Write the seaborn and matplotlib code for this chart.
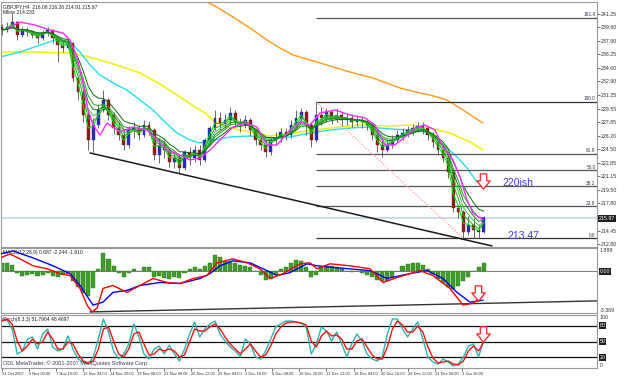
import numpy as np
import pandas as pd
import matplotlib
matplotlib.use("Agg")
import matplotlib.pyplot as plt
from matplotlib.path import Path
from matplotlib.transforms import blended_transform_factory as btf
import seaborn as sns

sns.set_theme(style="white")
plt.rcParams['font.family'] = ['Liberation Sans', 'DejaVu Sans']

# ---------------- data (one candle = 12h, x = candle index) ----------------
OPEN0 = 239.64
CLOSE = [239.27, 239.64, 240.26, 238.65, 239.27, 239.02, 238.65, 238.28, 238.90, 239.27,
         238.28, 237.41, 237.04, 237.66, 233.33, 231.60, 228.75, 225.66, 227.51, 229.37,
         230.61, 228.75, 227.14, 226.27, 225.04, 226.89, 227.14, 226.27, 227.51, 226.89,
         223.80, 225.04, 224.42, 222.93, 223.43, 222.19, 224.17, 223.43, 224.42, 223.18,
         225.66, 227.14, 228.38, 227.64, 228.13, 229.00, 227.88, 227.51, 228.13, 226.89,
         225.66, 225.04, 224.17, 225.66, 225.90, 226.65, 226.27, 227.51, 228.38, 229.12,
         227.51, 225.66, 228.75, 228.38, 229.12, 228.38, 228.75, 228.13, 228.38, 227.88,
         228.13, 227.88, 227.51, 226.27, 225.04, 224.42, 225.04, 225.66, 226.27, 226.52,
         226.89, 227.14, 227.39, 227.14, 226.27, 225.41, 224.42, 223.43, 221.70, 217.24,
         216.74, 214.27, 215.13, 214.52, 214.27, 215.97]
HIGH = [240.01, 240.26, 241.37, 240.40, 239.64, 239.64, 239.27, 238.90, 239.27, 239.64,
        239.39, 238.28, 238.03, 238.28, 237.78, 233.58, 232.09, 229.12, 228.38, 230.11,
        231.84, 230.85, 229.12, 227.88, 226.89, 227.39, 227.88, 227.51, 228.13, 228.00,
        227.14, 225.90, 225.66, 224.67, 224.17, 223.80, 224.42, 224.79, 225.04, 225.04,
        225.90, 227.39, 229.37, 229.12, 228.87, 229.74, 229.37, 228.38, 228.75, 228.38,
        227.14, 226.27, 225.66, 225.90, 226.65, 227.14, 227.14, 228.13, 229.37, 229.62,
        229.37, 227.88, 230.36, 229.74, 229.62, 229.37, 229.62, 229.12, 229.00, 228.87,
        228.75, 228.63, 228.38, 227.88, 226.65, 225.66, 225.66, 226.27, 226.89, 227.14,
        227.39, 227.64, 227.88, 227.88, 227.39, 226.65, 225.90, 225.04, 224.17, 222.19,
        217.61, 216.99, 216.25, 216.00, 215.13, 216.26]
LOW = [238.65, 239.02, 239.52, 238.03, 238.40, 238.53, 238.28, 237.66, 238.03, 238.53,
       237.66, 235.31, 236.55, 237.04, 232.83, 230.61, 227.88, 224.42, 224.17, 227.14,
       229.12, 228.13, 226.40, 225.66, 224.42, 224.67, 225.90, 225.66, 226.03, 226.27,
       223.18, 222.81, 223.43, 222.31, 222.19, 221.57, 221.94, 222.56, 222.93, 222.56,
       222.93, 225.04, 226.89, 226.89, 227.14, 227.51, 227.27, 226.65, 227.14, 226.15,
       225.04, 224.42, 223.55, 223.80, 225.04, 225.41, 225.66, 225.90, 227.14, 227.88,
       226.27, 224.79, 225.41, 227.51, 227.88, 227.64, 227.88, 227.39, 227.51, 227.27,
       227.39, 227.14, 226.89, 225.66, 224.17, 223.55, 224.17, 224.67, 225.29, 225.66,
       226.03, 226.27, 226.65, 226.40, 225.66, 224.79, 223.80, 222.93, 220.95, 216.74,
       216.00, 213.47, 213.90, 213.53, 213.53, 214.15]

MAGENTA_X = [1.18, 3.55, 6.51, 9.47, 12.03, 13.41, 14.79, 15.98, 16.96, 17.95, 19.33, 20.71,
             23.27, 25.84, 28.60, 31.16, 32.54, 35.11, 37.08, 39.05, 41.03, 43.0, 45.56, 47.93,
             50.30, 52.27, 54.24, 56.80, 58.78, 60.75, 62.72, 65.68, 68.64, 71.60, 73.57, 75.54,
             77.51, 79.49, 81.46, 83.43, 85.40, 86.98, 88.95, 90.34, 91.72, 92.90, 94.87]
MAGENTA_Y = [239.52, 240.26, 239.89, 239.27, 238.90, 238.03, 235.93, 232.71, 229.37, 227.51,
             226.27, 227.76, 226.65, 227.27, 226.89, 225.29, 224.42, 223.80, 223.18, 223.43,
             224.42, 225.66, 227.27, 227.76, 227.27, 225.04, 225.04, 226.89, 227.88, 227.51,
             229.00, 229.37, 228.75, 228.38, 227.51, 225.04, 225.04, 226.03, 227.14, 227.51,
             226.89, 224.79, 223.18, 221.08, 218.23, 216.62, 215.75]
CYAN_X = [-0.39, 3.55, 7.50, 10.45, 13.41, 15.38, 17.36, 19.33, 22.29, 24.65, 27.22, 29.78,
          32.15, 34.52, 37.08, 39.05, 42.01, 44.97, 48.92, 52.86, 56.80, 60.75, 64.69, 68.64,
          72.58, 76.53, 80.47, 83.43, 85.40, 86.98, 88.95, 90.34, 91.72, 93.69]
CYAN_Y = [235.93, 236.55, 237.41, 238.03, 237.78, 236.55, 234.94, 233.70, 232.59, 231.84,
          230.61, 229.37, 227.88, 226.52, 225.66, 225.29, 225.66, 226.03, 226.15, 225.90,
          226.03, 226.52, 226.89, 227.14, 227.27, 227.02, 226.89, 226.65, 226.03, 225.04,
          224.05, 223.18, 222.19, 220.46]
YELLOW_X = [-0.39, 6.51, 13.41, 16.37, 19.33, 23.27, 27.22, 31.16, 35.11, 38.07, 40.04, 42.01,
            44.97, 48.92, 52.86, 55.82, 58.78, 64.69, 70.61, 76.53, 80.47, 84.42, 88.36, 92.31, 94.87]
YELLOW_Y = [236.55, 236.55, 236.42, 236.05, 235.56, 234.81, 233.95, 232.59, 230.98, 229.74,
            229.00, 227.88, 227.14, 226.65, 226.15, 226.40, 226.65, 227.14, 227.51, 227.39,
            227.51, 227.14, 226.52, 225.41, 224.42]
ORANGE_X = [39.64, 42.01, 45.56, 48.92, 52.27, 54.83, 57.40, 62.13, 68.64, 73.18, 78.50,
            82.45, 84.42, 87.77, 90.93, 94.87]
ORANGE_Y = [242.98, 242.24, 240.88, 239.52, 238.03, 237.04, 236.18, 235.31, 234.07, 233.33,
            232.09, 231.47, 231.22, 230.61, 229.37, 227.76]

TREND_X = [17.36, 96.65]
TREND_Y = [224.05, 212.54]
FIB_FROM, FIB_TO = 62, 91
FIB_RATIOS = [0.0, 23.6, 38.2, 50.0, 61.8, 100.0, 161.8]
BID = 215.97
PRICE_TICKS = [241.25, 239.60, 237.90, 236.25, 234.60, 232.90, 231.25, 229.55, 227.85,
               226.20, 224.50, 222.85, 221.15, 219.50, 217.80, 214.45, 212.80]

MACD_HIST = [0.69, 0.69, 0.53, -0.10, -0.34, -0.26, -0.18, -0.34, -0.26, -0.10,
             -0.34, -0.42, -0.26, -0.18, -0.74, -1.30, -1.78, -2.02, -1.38, 0.21,
             1.49, 1.01, 0.45, -0.10, -0.42, -0.10, 0.21, 0.06, 0.37, 0.37,
             -0.42, -0.34, -0.50, -0.58, -0.42, -0.50, -0.10, 0.21, 0.37, 0.21,
             0.45, 0.69, 1.33, 1.17, 0.85, 0.85, 0.69, 0.53, 0.45, 0.37,
             0.06, -0.26, -0.66, -0.58, -0.26, 0.21, 0.37, 0.69, 0.93, 0.85,
             0.37, -0.42, -0.26, 0.37, 0.45, 0.45, 0.37, 0.21, 0.06, -0.02,
             0.06, -0.10, -0.26, -0.42, -0.66, -0.82, -0.74, -0.42, 0.06, 0.45,
             0.61, 0.69, 0.69, 0.53, 0.21, -0.18, -0.58, -0.98, -1.30, -1.46,
             -1.22, -0.82, -0.42, 0.06, 0.37, 0.69]
MACD_RED_X = [-0.39, 1.58, 3.55, 6.11, 8.88, 11.44, 13.41, 15.38, 16.77, 17.75, 18.74, 19.92,
              21.89, 24.65, 27.22, 29.78, 32.54, 35.11, 37.67, 40.43, 42.41, 45.56, 48.32,
              50.89, 52.86, 55.42, 58.78, 60.75, 62.13, 64.69, 68.64, 72.58, 75.15, 77.91,
              82.45, 85.01, 88.36, 90.93, 92.90, 94.67]
MACD_RED_Y = [1.09, 1.41, 1.01, 0.45, 0.21, -0.18, -0.34, -1.38, -2.73, -3.29, -2.97, -1.38,
              -1.14, -1.70, -1.14, -0.58, -0.90, -0.98, -0.58, -0.34, 0.69, 1.01, 0.69,
              0.21, -0.58, -0.18, 0.61, 0.69, 0.21, 0.61, 0.45, 0.21, -0.90, -0.50,
              0.06, -0.34, -1.38, -2.73, -2.57, -2.10]
MACD_BLUE_X = [-0.39, 2.17, 6.11, 10.06, 13.41, 15.38, 17.95, 19.92, 21.89, 24.65, 27.22,
               31.16, 35.11, 39.05, 41.03, 43.00, 45.56, 48.92, 52.27, 54.24, 56.80, 60.16,
               62.13, 66.08, 72.58, 75.94, 80.47, 83.83, 86.98, 89.74, 92.31, 94.87]
MACD_BLUE_Y = [1.41, 1.65, 1.09, 0.45, -0.18, -1.14, -2.73, -2.49, -1.70, -1.54, -1.14,
               -0.90, -0.98, -0.58, -0.18, 0.45, 0.85, 0.69, 0.06, -0.34, -0.10, 0.61,
               0.45, 0.29, 0.06, -0.58, -0.18, 0.06, -0.58, -1.70, -2.49, -2.33]
MACD_TL_X = [17.36, 117.36]
MACD_TL_Y = [-3.28, -2.39]

STOCH_K = [92.5, 90.6, 73.6, 26.4, 32.1, 54.7, 58.5, 35.8, 64.2, 73.6,
           39.6, 32.1, 35.8, 60.4, 35.8, 17.0, 11.3, 7.5, 20.8, 54.7,
           92.5, 67.9, 32.1, 17.0, 26.4, 45.3, 83.0, 58.5, 26.4, 17.0,
           35.8, 41.5, 26.4, 43.4, 26.4, 13.2, 35.8, 64.2, 86.8, 58.5,
           73.6, 83.0, 88.7, 64.2, 50.9, 39.6, 32.1, 20.8, 54.7, 45.3,
           20.8, 17.0, 32.1, 54.7, 77.4, 83.0, 88.7, 88.7, 86.8, 84.9,
           77.4, 26.4, 45.3, 77.4, 69.8, 50.9, 67.9, 45.3, 20.8, 45.3,
           64.2, 50.9, 26.4, 17.0, 13.2, 20.8, 64.2, 92.5, 92.5, 73.6,
           58.5, 73.6, 86.8, 54.7, 20.8, 11.3, 7.5, 17.0, 11.3, 3.8,
           7.5, 20.8, 41.5, 45.3, 20.8, 51.8]
STOCH_D = [88.7, 92.5, 83.0, 50.9, 32.1, 41.5, 54.7, 45.3, 49.1, 67.9,
           54.7, 35.8, 35.8, 49.1, 45.3, 26.4, 13.2, 9.4, 13.2, 35.8,
           73.6, 77.4, 50.9, 26.4, 20.8, 35.8, 64.2, 67.9, 45.3, 24.5,
           26.4, 35.8, 32.1, 35.8, 32.1, 20.8, 24.5, 49.1, 73.6, 69.8,
           69.8, 77.4, 83.0, 73.6, 58.5, 45.3, 35.8, 26.4, 35.8, 45.3,
           32.1, 20.8, 24.5, 41.5, 64.2, 77.4, 84.9, 86.8, 86.8, 84.9,
           81.1, 50.9, 39.6, 60.4, 69.8, 60.4, 62.3, 54.7, 35.8, 35.8,
           50.9, 54.7, 39.6, 24.5, 17.0, 17.0, 39.6, 73.6, 88.7, 81.1,
           67.9, 67.9, 79.2, 67.9, 39.6, 18.9, 9.4, 11.3, 13.2, 7.5,
           5.7, 13.2, 32.1, 41.5, 32.1, 48.47]
STOCH_LEVELS = [80, 50, 20]

TICK_POS = [k * 16 / 3 for k in range(18)]
X_LABELS = ["31 Oct 2007", "5 Nov 00:00", "7 Nov 16:00", "12 Nov 04:00", "14 Nov 20:00",
            "19 Nov 08:00", "22 Nov 00:00", "26 Nov 12:00", "29 Nov 04:00", "3 Dec 16:00",
            "6 Dec 08:00", "10 Dec 20:00", "13 Dec 12:00", "18 Dec 04:00", "20 Dec 16:00",
            "26 Dec 12:00", "31 Dec 00:00", "3 Jan 16:00"]

ARROWS_MAIN = (94.9, 220.58)
ARROWS_MACD = (93.8, -1.79)
ARROWS_STOCH = (94.8, 65.0)

# ---------------- figure ----------------
W, H = 625, 377
fig = plt.figure(figsize=(6.25, 3.77), dpi=100)
fig.patch.set_facecolor('white')


def rect(x0, y0, x1, y1):
    return [x0 / W, 1 - y1 / H, (x1 - x0) / W, (y1 - y0) / H]


ax1 = fig.add_axes(rect(1, 2, 597, 247))
ax2 = fig.add_axes(rect(1, 248, 597, 313))
ax3 = fig.add_axes(rect(1, 315, 597, 368))
XMIN, XMAX = -0.2, 117.36
LBL = dict(fontsize=3.8, color='#333333')

# ----- main panel -----
close = np.array(CLOSE)
high = np.array(HIGH)
low = np.array(LOW)
idx = np.arange(len(close))
opens = np.r_[OPEN0, close[:-1]]
up = close >= opens

ax1.axhline(BID, color='#c6d9e6', lw=1.3, zorder=1)
ax1.vlines(idx, low, high, color='#505050', lw=0.6, zorder=3)
ax1.bar(idx[up], (close - opens)[up], bottom=opens[up], width=0.55,
        color='#2b2bb5', edgecolor='#2b2bb5', lw=0.3, zorder=4)
ax1.bar(idx[~up], (close - opens)[~up], bottom=opens[~up], width=0.55,
        color='#8b1c1c', edgecolor='#8b1c1c', lw=0.3, zorder=4)

df = pd.DataFrame({'x': idx, 'close': close})
for span, col in zip([2, 3, 4, 5, 6, 8],
                     ['#00e000', '#1faa1f', '#3cc83c', '#128a12', '#2e9e2e', '#0b6e0b']):
    df['ema'] = df['close'].ewm(span=span, adjust=False).mean()
    sns.lineplot(data=df, x='x', y='ema', ax=ax1, color=col, lw=0.7, zorder=5)

sns.lineplot(x=ORANGE_X, y=ORANGE_Y, ax=ax1, color='#ff9a1a', lw=1.0, zorder=2)
sns.lineplot(x=YELLOW_X, y=YELLOW_Y, ax=ax1, color='#f2f200', lw=1.1, zorder=2)
sns.lineplot(x=CYAN_X, y=CYAN_Y, ax=ax1, color='#22e0ee', lw=1.0, zorder=2)
sns.lineplot(x=MAGENTA_X, y=MAGENTA_Y, ax=ax1, color='#ff2bff', lw=1.0, zorder=6)

ax1.plot(TREND_X, TREND_Y, color='#1a1a1a', lw=1.1, zorder=7)

fib_hi = HIGH[FIB_FROM]
fib_lo = LOW[FIB_TO]
for r in FIB_RATIOS:
    lvl = fib_lo + r / 100 * (fib_hi - fib_lo)
    ax1.hlines(lvl, FIB_FROM, XMAX, color='#333333' if r in (0, 100) else '#555555',
               lw=0.9, zorder=2)
    ax1.text(XMAX - 0.3, lvl + 0.08, f"{r:.1f}", ha='right', va='bottom',
             fontsize=3.4, color='#333355')
ax1.plot([FIB_FROM, FIB_TO], [fib_hi, fib_lo], color='#ff8c8c', lw=0.8, ls=':', zorder=2)

ax1.text(0.004, 0.992, "GBPJPY,H4  216.08 216.26 214.91 215.97", transform=ax1.transAxes,
         ha='left', va='top', fontsize=3.6, color='#222222')
ax1.text(0.004, 0.968, "Mline 214.233", transform=ax1.transAxes,
         ha='left', va='top', fontsize=3.6, color='#222222')

ax1.text(98.8, 220.33, "220ish", color='#3d3dd6', fontsize=7.5, va='center', ha='left')
ax1.text(99.6, 213.77, "213.47", color='#3d3dd6', fontsize=7.5, va='center', ha='left')

arrow = Path([(-0.26, 0.62), (0.26, 0.62), (0.26, 0.05), (0.55, 0.05), (0.0, -0.62),
              (-0.55, 0.05), (-0.26, 0.05), (-0.26, 0.62)],
             [Path.MOVETO] + [Path.LINETO] * 6 + [Path.CLOSEPOLY])
for axx, (ax_x, ax_y) in ((ax1, ARROWS_MAIN), (ax2, ARROWS_MACD), (ax3, ARROWS_STOCH)):
    axx.plot([ax_x], [ax_y], marker=arrow, ms=11, mfc='white', mec='#ff2020', mew=0.9,
             zorder=10, ls='none')

ax1.set_ylim(212.41, 242.74)
ax1.yaxis.tick_right()
ax1.set_yticks(PRICE_TICKS)
ax1.set_yticklabels([f"{v:.2f}" for v in PRICE_TICKS])
ax1.tick_params(axis='y', right=True, labelsize=3.8, length=2, width=0.5, pad=1,
                colors='#333333')
ax1.text(1.003, BID, f"{BID:.2f}", transform=btf(ax1.transAxes, ax1.transData),
         fontsize=3.8, color='white', va='center', ha='left',
         bbox=dict(facecolor='#202020', edgecolor='none', pad=0.6))

# ----- MACD panel -----
ax2.axhline(0, color='#7a7a7a', lw=0.7, zorder=1)
ax2.bar(idx, MACD_HIST, width=0.8, color='#3f9d2a', edgecolor='#2a7a1a', lw=0.3, zorder=2)
sns.lineplot(x=MACD_TL_X, y=MACD_TL_Y, ax=ax2, color='#333333', lw=1.0, zorder=3)
sns.lineplot(x=MACD_BLUE_X, y=MACD_BLUE_Y, ax=ax2, color='#0000ff', lw=1.0, zorder=4)
sns.lineplot(x=MACD_RED_X, y=MACD_RED_Y, ax=ax2, color='#ff0000', lw=1.0, zorder=5)
ax2.set_ylim(-3.369, 1.889)
ax2.set_yticks([])
ax2.text(0.004, 0.97, "MACD(12,26,9) 0.687 -2.244 -1.910", transform=ax2.transAxes,
         ha='left', va='top', fontsize=3.6, color='#222222')
tr2 = btf(ax2.transAxes, ax2.transData)
ax2.text(1.004, 1.889, "1.889", transform=tr2, va='top', ha='left', **LBL)
ax2.text(1.004, -3.369, "-3.369", transform=tr2, va='bottom', ha='left', **LBL)
ax2.text(1.004, 0, "0.00", transform=tr2, va='center', ha='left', fontsize=3.8,
         color='white', bbox=dict(facecolor='#202020', edgecolor='none', pad=0.6))

# ----- Stochastic panel -----
for lv in STOCH_LEVELS:
    ax3.axhline(lv, color='#111111', lw=0.9, zorder=1)
sns.lineplot(x=idx, y=STOCH_K, ax=ax3, color='#2ab5b0', lw=1.0, zorder=3)
sns.lineplot(x=idx, y=STOCH_D, ax=ax3, color='#ff1010', lw=1.0, zorder=4)
ax3.set_ylim(0, 100)
ax3.set_yticks([])
ax3.text(0.004, 0.97, "Stoch(8,3,3) 51.7964 48.4697", transform=ax3.transAxes,
         ha='left', va='top', fontsize=3.6, color='#222222')
ax3.text(0.004, 0.1, "ODL MetaTrader, \u00a9 2001-2007 MetaQuotes Software Corp.",
         transform=ax3.transAxes, ha='left', va='center', fontsize=4.0, color='#3a3a5a')
tr3 = btf(ax3.transAxes, ax3.transData)
ax3.text(1.004, 100, "100", transform=tr3, va='top', ha='left', **LBL)
ax3.text(1.004, 0, "0", transform=tr3, va='bottom', ha='left', **LBL)
for lv in STOCH_LEVELS:
    ax3.text(1.004, lv, f"{lv}", transform=tr3, va='center', ha='left', fontsize=3.8,
             color='white', bbox=dict(facecolor='#202020', edgecolor='none', pad=0.6))

# ----- common styling -----
for ax in (ax1, ax2, ax3):
    ax.set_xlim(XMIN, XMAX)
    ax.set_facecolor('white')
    ax.set_xlabel('')
    ax.set_ylabel('')
    for s in ax.spines.values():
        s.set_color('#9a9a9a')
        s.set_linewidth(0.8)
    if ax.get_legend() is not None:
        ax.get_legend().remove()
    ax.tick_params(axis='x', bottom=False, labelbottom=False)

ax3.set_xticks(TICK_POS)
ax3.set_xticklabels(X_LABELS)
ax3.tick_params(axis='x', bottom=True, labelbottom=True, length=2, width=0.5, pad=1,
                labelsize=2.9, colors='#333333')
plt.setp(ax3.get_xticklabels(), ha='left')

fig.savefig("out.png", dpi=100, facecolor='white')
